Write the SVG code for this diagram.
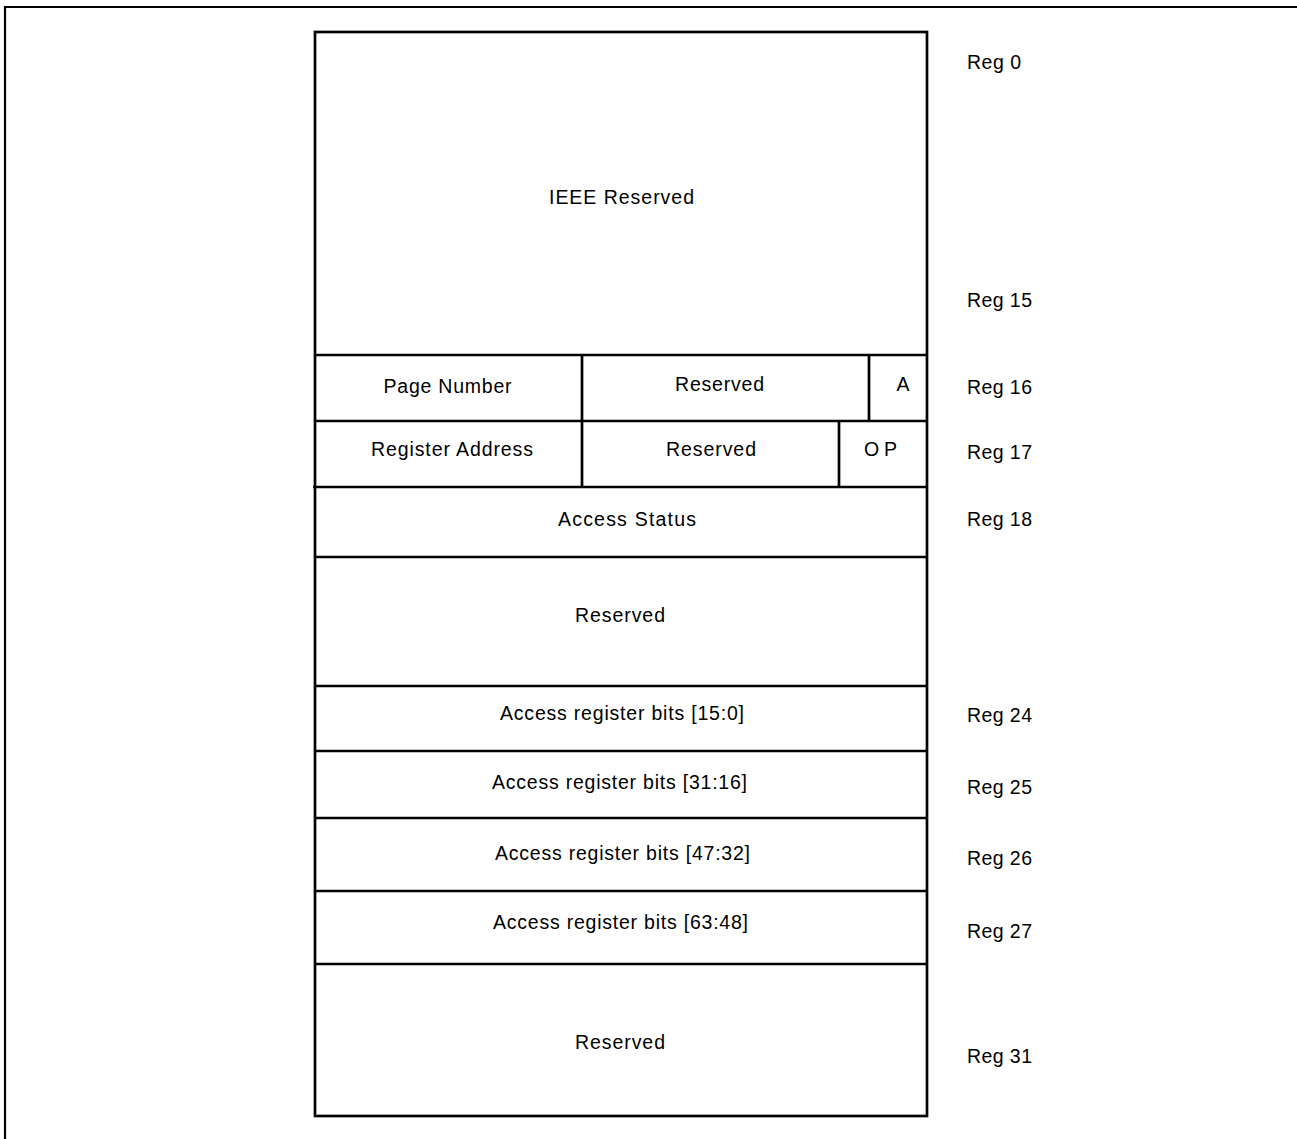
<svg xmlns="http://www.w3.org/2000/svg" width="1297" height="1139" viewBox="0 0 1297 1139">
  <style>
    .frame { fill: none; stroke: #000; stroke-width: 2.2; }
    .cell { fill: none; stroke: #000; stroke-width: 2.7; }
    .t { font-family: "Liberation Sans", Arial, sans-serif; font-size: 19.5px; fill: #000; }
    .c { text-anchor: middle; }
  </style>
  <rect width="1297" height="1139" fill="#fff"/>
  <g id="frame">
    <polyline class="frame" points="5,1139 5,7 1297,7"/>
  </g>
  <g id="table">
    <rect class="cell" x="315" y="32" width="612" height="1084"/>
  </g>
  <g id="connectors">
    <line class="cell" x1="315" y1="355" x2="927" y2="355"/>
    <line class="cell" x1="315" y1="421" x2="927" y2="421"/>
    <line class="cell" x1="313" y1="487" x2="927" y2="487"/>
    <line class="cell" x1="315" y1="557" x2="927" y2="557"/>
    <line class="cell" x1="315" y1="686" x2="927" y2="686"/>
    <line class="cell" x1="315" y1="751" x2="927" y2="751"/>
    <line class="cell" x1="315" y1="818" x2="927" y2="818"/>
    <line class="cell" x1="315" y1="891" x2="927" y2="891"/>
    <line class="cell" x1="315" y1="964" x2="927" y2="964"/>
    <line class="cell" x1="582" y1="355" x2="582" y2="421"/>
    <line class="cell" x1="869" y1="355" x2="869" y2="421"/>
    <line class="cell" x1="582" y1="421" x2="582" y2="487"/>
    <line class="cell" x1="839" y1="421" x2="839" y2="487"/>
  </g>
  <g id="n-ieee"><text class="t c" x="621.5" y="204" textLength="145" lengthAdjust="spacing">IEEE Reserved</text></g>
  <g id="n-page"><text class="t c" x="447.5" y="393" textLength="128" lengthAdjust="spacing">Page Number</text></g>
  <g id="n-res16"><text class="t c" x="719.5" y="391" textLength="89" lengthAdjust="spacing">Reserved</text></g>
  <g id="n-a"><text class="t c" x="903" y="391">A</text></g>
  <g id="n-regaddr"><text class="t c" x="452" y="456" textLength="162" lengthAdjust="spacing">Register Address</text></g>
  <g id="n-res17"><text class="t c" x="711" y="456" textLength="90" lengthAdjust="spacing">Reserved</text></g>
  <g id="n-op"><text class="t c" x="880.5" y="456" textLength="33" lengthAdjust="spacing">OP</text></g>
  <g id="n-status"><text class="t c" x="627" y="526" textLength="138" lengthAdjust="spacing">Access Status</text></g>
  <g id="n-res19"><text class="t c" x="620" y="622" textLength="90" lengthAdjust="spacing">Reserved</text></g>
  <g id="n-bits0"><text class="t c" x="622" y="720" textLength="244" lengthAdjust="spacing">Access register bits [15:0]</text></g>
  <g id="n-bits1"><text class="t c" x="619.5" y="789" textLength="255" lengthAdjust="spacing">Access register bits [31:16]</text></g>
  <g id="n-bits2"><text class="t c" x="622.5" y="860" textLength="255" lengthAdjust="spacing">Access register bits [47:32]</text></g>
  <g id="n-bits3"><text class="t c" x="620.5" y="929" textLength="255" lengthAdjust="spacing">Access register bits [63:48]</text></g>
  <g id="n-res28"><text class="t c" x="620" y="1049" textLength="90" lengthAdjust="spacing">Reserved</text></g>
  <g id="labels">
    <text class="t" x="967" y="69" textLength="54" lengthAdjust="spacing">Reg 0</text>
    <text class="t" x="967" y="307" textLength="65" lengthAdjust="spacing">Reg 15</text>
    <text class="t" x="967" y="394" textLength="65" lengthAdjust="spacing">Reg 16</text>
    <text class="t" x="967" y="459" textLength="65" lengthAdjust="spacing">Reg 17</text>
    <text class="t" x="967" y="526" textLength="65" lengthAdjust="spacing">Reg 18</text>
    <text class="t" x="967" y="722" textLength="65" lengthAdjust="spacing">Reg 24</text>
    <text class="t" x="967" y="794" textLength="65" lengthAdjust="spacing">Reg 25</text>
    <text class="t" x="967" y="865" textLength="65" lengthAdjust="spacing">Reg 26</text>
    <text class="t" x="967" y="938" textLength="65" lengthAdjust="spacing">Reg 27</text>
    <text class="t" x="967" y="1063" textLength="65" lengthAdjust="spacing">Reg 31</text>
  </g>
</svg>
